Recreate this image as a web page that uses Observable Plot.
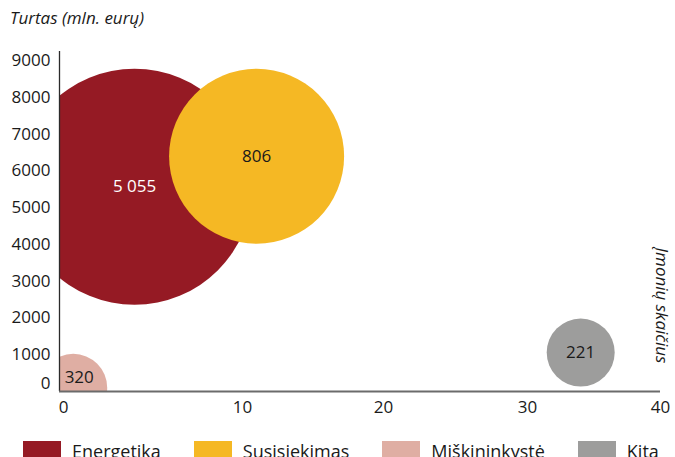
<!DOCTYPE html>
<html><head><meta charset="utf-8">
<script src="https://cdn.jsdelivr.net/npm/d3@7"></script>
<script src="https://cdn.jsdelivr.net/npm/@observablehq/plot@0.6"></script>
<style>
body{margin:0;background:#fff;font-family:"Open Sans",sans-serif;}
#wrap{position:relative;width:675px;height:457px;overflow:hidden;}
#chart{position:absolute;left:0;top:0;}
#title{position:absolute;left:10px;top:6px;font-style:italic;font-size:17px;color:#1a1a1a;}
#legend{position:absolute;left:23px;top:439px;display:flex;align-items:center;font-size:18px;color:#1a1a1a;white-space:nowrap;}
.item{display:flex;align-items:center;margin-right:33px;}
.sw{width:38px;height:20px;margin-right:11px;}
</style></head><body>
<div id="wrap"><div id="chart"></div><div id="title">Turtas (mln. eurų)</div><div id="legend"></div></div>
<script>
const sectors = ["Energetika", "Susisiekimas", "Miškininkystė", "Kita"];
const imoniuSkaicius = [4.1, 11, 0.75, 34];
const turtas = [5570, 6400, 100, 1060];
const dydis = [100, 55, 8.3, 8.3];
const etiketes = ["5 055", "806", "320", "221"];
const colors = ["#951a24", "#f5b824", "#dfaea3", "#9d9d9c"];
const xTicks = [0, 10, 20, 30, 40];
const yTicks = [1000, 2000, 3000, 4000, 5000, 6000, 7000, 8000, 9000];

const data = sectors.map((s, i) => ({sector: s, n: imoniuSkaicius[i], t: turtas[i], size: dydis[i], label: etiketes[i]}));

// the reference's x axis has unevenly spaced ticks; map each tick to its spot
const xWarp = d3.scaleLinear().domain(xTicks).range([0, 183, 324, 468, 601]);

const chart = Plot.plot({
  width: 675, height: 425,
  marginLeft: 59, marginRight: 15, marginTop: 51, marginBottom: 34,
  style: {fontFamily: "Open Sans", fontSize: "17px", color: "#1a1a1a", background: "transparent"},
  x: {transform: (v) => xWarp(v), domain: [0, 601]},
  y: {domain: [0, 9250]},
  r: {type: "sqrt", domain: [0, 100], range: [0, 118]},
  color: {domain: sectors, range: colors},
  marks: [
    Plot.dot(data, {x: "n", y: "t", r: "size", fill: "sector", clip: true}),
    Plot.text(data.filter(d => d.sector !== "Miškininkystė"), {x: "n", y: "t", text: "label", fill: d => d.sector === "Energetika" ? "#ffffff" : "#1a1a1a", fontSize: 17}),
    Plot.text(data.filter(d => d.sector === "Miškininkystė"), {x: "n", y: "t", text: "label", fill: "#1a1a1a", fontSize: 17, dx: 6, dy: -10}),
    Plot.ruleX([0], {stroke: "#2b2b2b", strokeWidth: 1.3}),
    Plot.ruleY([0], {stroke: "#6b6b6b", strokeWidth: 2}),
    Plot.axisX(xTicks.filter(v => v !== 0), {tickSize: 0, tickPadding: 9, label: null, fontSize: 17, tickFormat: (d) => String(d)}),
    Plot.axisX([0], {tickSize: 0, tickPadding: 9, label: null, fontSize: 17, dx: 4, tickFormat: (d) => String(d)}),
    Plot.axisY(yTicks, {tickSize: 0, tickPadding: 9, label: null, fontSize: 17, tickFormat: (d) => String(d)}),
    Plot.axisY([0], {tickSize: 0, tickPadding: 9, label: null, fontSize: 17, dy: -8, tickFormat: (d) => String(d)}),
    Plot.text(["Įmonių skaičius"], {frameAnchor: "top-right", rotate: 90, textAnchor: "start", dx: 8, dy: 196, fontStyle: "italic", fontSize: 17, fill: "#1a1a1a"})
  ]
});
document.getElementById("chart").appendChild(chart);

const legend = document.getElementById("legend");
sectors.forEach((s, i) => {
  const item = document.createElement("div");
  item.className = "item";
  const sw = document.createElement("div");
  sw.className = "sw";
  sw.style.background = colors[i];
  const lab = document.createElement("span");
  lab.textContent = s;
  item.appendChild(sw);
  item.appendChild(lab);
  legend.appendChild(item);
});
</script>
</body></html>
